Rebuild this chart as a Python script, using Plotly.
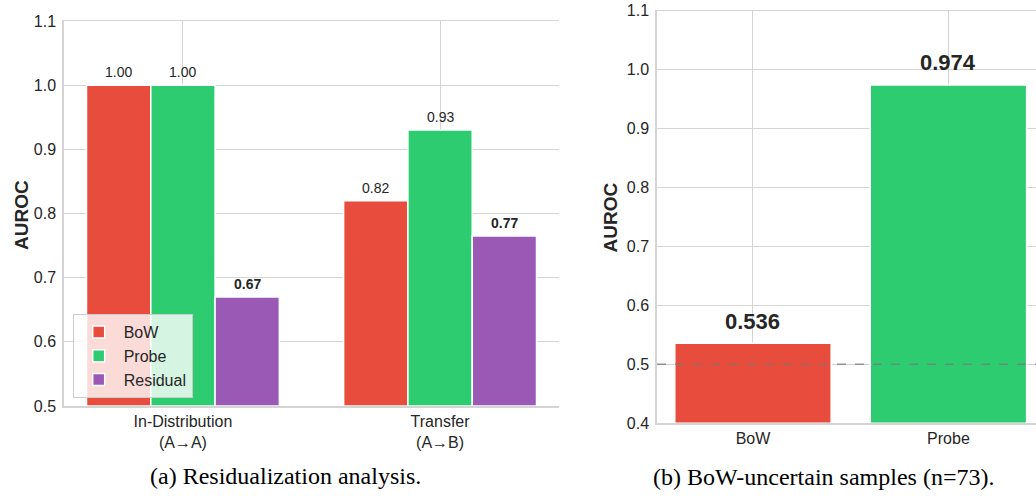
import numpy as np
import plotly.graph_objects as go

# ---- data ----
groups = ["In-Distribution<br>(A→A)", "Transfer<br>(A→B)"]
bow_vals = [1.00, 0.82]
probe_vals = [1.00, 0.93]
resid_vals = [0.67, 0.765]

uncertain_methods = ["BoW", "Probe"]
uncertain_vals = [0.536, 0.974]

left_yticks = [0.5, 0.6, 0.7, 0.8, 0.9, 1.0, 1.1]
right_yticks = [0.4, 0.5, 0.6, 0.7, 0.8, 0.9, 1.0, 1.1]

RED = "#e74c3c"
GREEN = "#2ecc71"
PURPLE = "#9b59b6"
GRID = "#d4d4d4"
TXT = "#262626"
SANS = "Liberation Sans, Arial, sans-serif"
SERIF = "Liberation Serif, Times New Roman, serif"

W, H = 1036, 499
OX, OY = 0, 0  # page body margin removed via post_script


def fx(p):
    return (p - OX) / W


def fy(p):
    return 1 - (p - OY) / H


fig = go.Figure()

xi = np.arange(len(groups))
bw = 0.25
series = [("BoW", bow_vals, RED, -bw), ("Probe", probe_vals, GREEN, 0.0), ("Residual", resid_vals, PURPLE, bw)]
for name, vals, col, off in series:
    fig.add_trace(go.Bar(
        x=xi + off, y=[v - 0.5 for v in vals], base=0.5, width=bw, name=name,
        marker=dict(color=col, line=dict(color="white", width=1.5)),
        xaxis="x", yaxis="y", showlegend=True, hoverinfo="skip"))
    for x, v in zip(xi + off, vals):
        txt = f"<b>{v:.2f}</b>" if name == "Residual" else f"{v:.2f}"
        fig.add_annotation(x=x, y=v, xref="x", yref="y", text=txt, showarrow=False,
                           xanchor="center", yanchor="middle", yshift=13,
                           font=dict(family=SANS, size=14, color=TXT))

ri = np.arange(len(uncertain_methods))
fig.add_trace(go.Bar(
    x=ri, y=[v - 0.4 for v in uncertain_vals], base=0.4, width=0.8,
    marker=dict(color=[RED, GREEN], line=dict(color="white", width=1.5)),
    xaxis="x2", yaxis="y2", showlegend=False, hoverinfo="skip"))
for x, v in zip(ri, uncertain_vals):
    fig.add_annotation(x=x, y=v, xref="x2", yref="y2", text=f"<b>{v:.3f}</b>", showarrow=False,
                       xanchor="center", yanchor="middle", yshift=22,
                       font=dict(family=SANS, size=22, color=TXT))

# dashed reference line at 0.5
fig.add_shape(type="line", xref="x2 domain", yref="y2", x0=0, x1=1, y0=0.5, y1=0.5,
              line=dict(color="rgba(120,120,120,0.75)", width=1.5, dash="dash"), layer="above")

axis_common = dict(showgrid=True, gridcolor=GRID, gridwidth=1.2, zeroline=False,
                   showline=True, linecolor=GRID, linewidth=1.5, ticks="", automargin=False,
                   ticklabeloverflow="allow",
                   tickfont=dict(family=SANS, size=16, color=TXT))

fig.update_layout(
    width=W, height=H, margin=dict(l=0, r=0, t=0, b=0, pad=0, autoexpand=False),
    paper_bgcolor="white", plot_bgcolor="white", barmode="overlay",
    xaxis=dict(domain=[fx(64), fx(559)], range=[-0.4625, 1.4625], tickvals=list(xi),
               ticktext=groups, anchor="y", **axis_common),
    yaxis=dict(domain=[fy(406), fy(19.7)], range=[0.5, 1.102], tickvals=left_yticks,
               tickformat=".1f", anchor="x", ticklabelstandoff=3, **axis_common),
    xaxis2=dict(domain=[fx(657), fx(1036)], range=[-0.491, 1.448], tickvals=list(ri),
                ticktext=uncertain_methods, anchor="y2", **axis_common),
    yaxis2=dict(domain=[fy(423.3), fy(9.5)], range=[0.4, 1.102], tickvals=right_yticks,
                tickformat=".1f", anchor="x2", ticklabelstandoff=3, **axis_common),
    legend=dict(x=fx(72.7), y=fy(398), xanchor="left", yanchor="bottom", itemwidth=40,
                bgcolor="rgba(255,255,255,0.8)", bordercolor="#cccccc", borderwidth=1,
                font=dict(family=SANS, size=16, color=TXT), tracegroupgap=0),
)

# axis titles
fig.add_annotation(x=fx(21), y=fy(215), xref="paper", yref="paper", text="<b>AUROC</b>",
                   xanchor="center", yanchor="middle",
                   textangle=-90, showarrow=False, font=dict(family=SANS, size=19, color=TXT))
fig.add_annotation(x=fx(610), y=fy(217.5), xref="paper", yref="paper", text="<b>AUROC</b>",
                   xanchor="center", yanchor="middle",
                   textangle=-90, showarrow=False, font=dict(family=SANS, size=19, color=TXT))

# captions
fig.add_annotation(x=fx(285), y=fy(476), xref="paper", yref="paper",
                   text="(a) Residualization analysis.", showarrow=False,
                   xanchor="center", yanchor="middle",
                   font=dict(family=SERIF, size=24, color="black"))
fig.add_annotation(x=fx(823), y=fy(476.5), xref="paper", yref="paper",
                   text="(b) BoW-uncertain samples (n=73).", showarrow=False,
                   xanchor="center", yanchor="middle",
                   font=dict(family=SERIF, size=24, color="black"))

fig.write_html("out.html", config={"displayModeBar": False},
               post_script="document.body.style.margin='0';")
